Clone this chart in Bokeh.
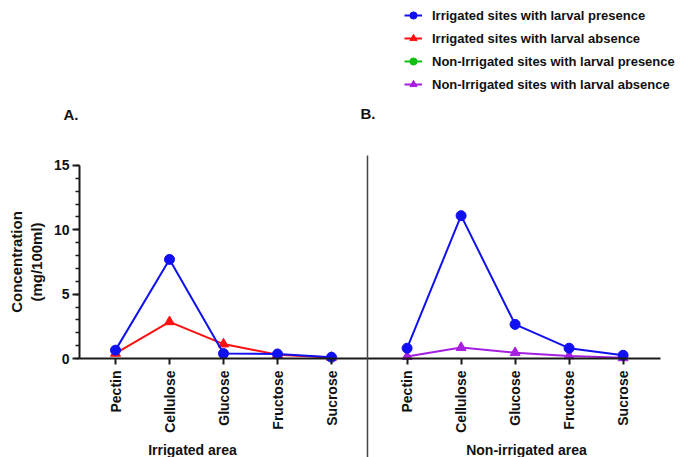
import numpy as np
from bokeh.plotting import figure
from bokeh.models import Range1d, LinearAxis, FixedTicker, Label, Legend, LegendItem
from bokeh.embed import file_html
from bokeh.resources import INLINE

# ---------------- data ----------------
categories = ["Pectin", "Cellulose", "Glucose", "Fructose", "Sucrose"]
irrigated_presence = [0.65, 7.7, 0.38, 0.35, 0.1]
irrigated_absence = [0.4, 2.85, 1.12, 0.3, 0.08]
non_irrigated_presence = [0.8, 11.1, 2.65, 0.8, 0.25]
non_irrigated_absence = [0.15, 0.85, 0.45, 0.2, 0.05]
group_labels = ["Irrigated area", "Non-irrigated area"]
panel_labels = ["A.", "B."]
legend_labels = [
    "Irrigated sites with larval presence",
    "Irrigated sites with larval absence",
    "Non-Irrigated sites with larval presence",
    "Non-Irrigated sites with larval absence",
]
y_ticks = [0, 5, 10, 15]
y_label = "Concentration\n(mg/100ml)"

# ---------------- layout ----------------
W, H = 684, 457
YAXIS_PX = 79        # pixel of the y axis line
X_PX0 = 115          # pixel of first category
PX_PER_X = 5.4
Y_PX0 = 358          # pixel of y = 0
PX_PER_Y = 12.867
STEP = 10
GROUP_OFFSET = 54
SEP_PX = 367

FONT = "Liberation Sans"
BLUE = "#1010f0"
RED = "#ff1010"
GREEN = "#10c010"
PURPLE = "#a61fe0"
AXIS = "#1a1a1a"
TEXT = "#111111"


def x_of(px):
    return STEP + (px - X_PX0) / PX_PER_X


def y_of(py):
    return (Y_PX0 - py) / PX_PER_Y


xa = [STEP * (i + 1) for i in range(len(categories))]
xb = [x + GROUP_OFFSET for x in xa]

p = figure(width=W, height=H,
           x_range=Range1d(x_of(0), x_of(W)),
           y_range=Range1d(y_of(H), y_of(0)),
           x_axis_location=None,
           output_backend="svg", toolbar_location=None,
           min_border_left=0, min_border_right=0,
           min_border_top=0, min_border_bottom=0)
p.outline_line_color = None
p.grid.visible = False
p.background_fill_color = "white"
p.border_fill_color = "white"

# y axis (drawn at a fixed place so that the whole canvas is the frame)
ya = p.yaxis[0]
ya.fixed_location = x_of(YAXIS_PX)
ya.bounds = (0, 15)
ya.ticker = FixedTicker(ticks=y_ticks, minor_ticks=list(range(0, 16)))
ya.axis_line_color = AXIS
ya.axis_line_width = 2
ya.major_tick_line_color = AXIS
ya.major_tick_line_width = 2
ya.major_tick_out = 7
ya.major_tick_in = 0
ya.minor_tick_line_color = AXIS
ya.minor_tick_line_width = 1.5
ya.minor_tick_out = 4
ya.minor_tick_in = 0
ya.major_label_text_font = FONT
ya.major_label_text_font_style = "bold"
ya.major_label_text_font_size = "14px"
ya.major_label_text_color = TEXT
ya.major_label_standoff = 3
ya.axis_label = y_label
ya.axis_label_text_font = FONT
ya.axis_label_text_font_style = "bold"
ya.axis_label_text_font_size = "15px"
ya.axis_label_text_color = TEXT
ya.axis_label_standoff = 6

# separator between the two panels
sep = LinearAxis(fixed_location=x_of(SEP_PX), bounds=(y_of(H), y_of(155)),
                 ticker=FixedTicker(ticks=[]),
                 major_label_text_font_size="0px",
                 major_tick_line_color=None, minor_tick_line_color=None,
                 axis_line_color="#444444", axis_line_width=1.5)
p.add_layout(sep, "left")

# x axes (one per panel, both at y = 0)
bounds = [(x_of(YAXIS_PX), x_of(SEP_PX)), (x_of(SEP_PX), x_of(660))]
for xs, bnd in zip((xa, xb), bounds):
    ax = LinearAxis(fixed_location=0, bounds=bnd,
                    ticker=FixedTicker(ticks=xs),
                    major_label_overrides={x: c for x, c in zip(xs, categories)},
                    major_label_orientation=np.pi / 2,
                    axis_line_color=AXIS, axis_line_width=2,
                    major_tick_line_color=AXIS, major_tick_line_width=2,
                    major_tick_out=6, major_tick_in=0,
                    minor_tick_line_color=None,
                    major_label_text_font=FONT,
                    major_label_text_font_style="bold",
                    major_label_text_font_size="14px",
                    major_label_text_color=TEXT,
                    major_label_standoff=6)
    p.add_layout(ax, "below")

# series
ia_l = p.line(xa, irrigated_absence, line_color=RED, line_width=2)
ia_s = p.scatter(xa, irrigated_absence, marker="triangle", size=10, color=RED)
ip_l = p.line(xa, irrigated_presence, line_color=BLUE, line_width=2)
ip_s = p.scatter(xa, irrigated_presence, marker="circle", size=10, color=BLUE)

na_l = p.line(xb, non_irrigated_absence, line_color=PURPLE, line_width=2)
na_s = p.scatter(xb, non_irrigated_absence, marker="triangle", size=10, color=PURPLE)
np_l = p.line(xb, non_irrigated_presence, line_color=BLUE, line_width=2)
np_s = p.scatter(xb, non_irrigated_presence, marker="circle", size=10, color=BLUE)

# legend key only (green entry of the original key; nothing drawn on the plot)
g_l = p.line([np.nan], [np.nan], line_color=GREEN, line_width=2)
g_s = p.scatter([np.nan], [np.nan], marker="circle", size=9, color=GREEN)

legend = Legend(items=[
    LegendItem(label=legend_labels[0], renderers=[ip_l, ip_s]),
    LegendItem(label=legend_labels[1], renderers=[ia_l, ia_s]),
    LegendItem(label=legend_labels[2], renderers=[g_l, g_s]),
    LegendItem(label=legend_labels[3], renderers=[na_l, na_s]),
], location=(404, H - 94), orientation="vertical",
    border_line_color=None, background_fill_alpha=0,
    padding=0, margin=0, spacing=3,
    glyph_width=18, glyph_height=20, label_height=20, label_standoff=10,
    label_text_font=FONT, label_text_font_style="bold",
    label_text_font_size="13px", label_text_color=TEXT)
p.add_layout(legend)

# panel letters
for txt, px, py in zip(panel_labels, (63, 360), (114, 113)):
    p.add_layout(Label(x=x_of(px), y=y_of(py), text=txt, text_font=FONT,
                       text_font_style="bold", text_font_size="15px",
                       text_color=TEXT, text_baseline="alphabetic"))

# group (axis) titles
for txt, px in zip(group_labels, (192, 526)):
    p.add_layout(Label(x=x_of(px), y=y_of(449), text=txt, text_font=FONT,
                       text_font_style="bold", text_font_size="14px",
                       text_color=TEXT, text_align="center",
                       text_baseline="middle"))

open("out.html", "w").write(file_html(p, INLINE))
